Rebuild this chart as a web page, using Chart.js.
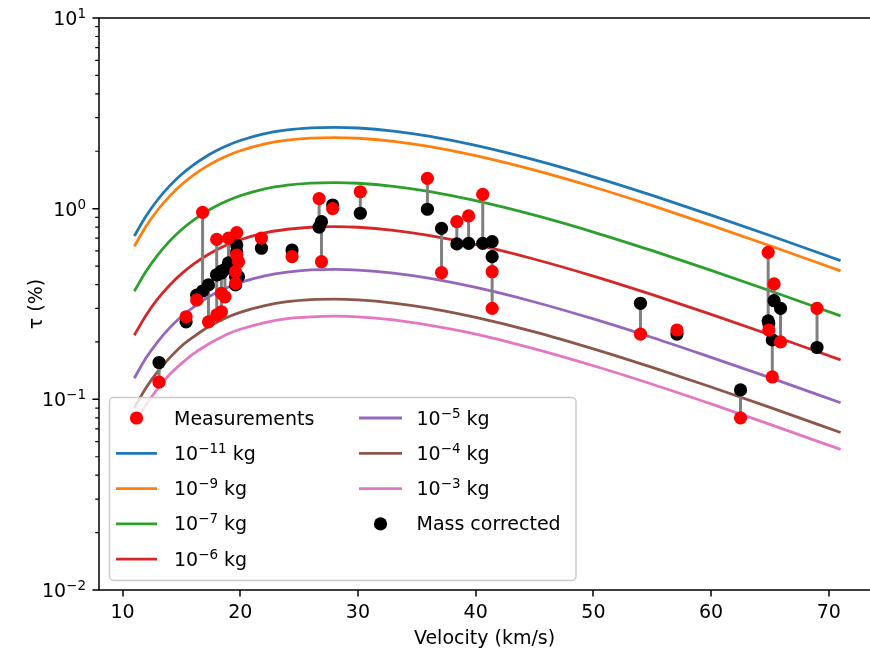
<!DOCTYPE html>
<html>
<head>
<meta charset="utf-8">
<script src="https://cdn.jsdelivr.net/npm/chart.js@4.4.1/dist/chart.umd.min.js"></script>
<style>
  html, body { margin: 0; padding: 0; background: #fff; }
  canvas { display: block; }
</style>
</head>
<body>
<canvas id="chart-tau" width="870" height="658"></canvas>
<script>
'use strict';

const FONT = 'DejaVu Sans';

// model curves: luminous efficiency vs velocity for a few meteoroid masses
const curveVelocity = [11, 12, 13, 14, 15, 16, 17, 18, 19, 20, 22, 24, 26, 28, 30, 33, 36, 40, 45, 50, 55, 60, 65, 71];
const massExponents = [-11, -9, -7, -6, -5, -4, -3];
const massColors = ['#1f77b4', '#ff7f0e', '#2ca02c', '#d62728', '#9467bd', '#8c564b', '#e377c2'];
const tauM11 = [0.719, 0.915, 1.117, 1.317, 1.510, 1.693, 1.862, 2.018, 2.158, 2.278, 2.466, 2.588, 2.652, 2.670, 2.649, 2.552, 2.400, 2.146, 1.801, 1.469, 1.174, 0.925, 0.723, 0.534];
const tauM9  = [0.635, 0.809, 0.987, 1.164, 1.335, 1.496, 1.646, 1.784, 1.907, 2.013, 2.180, 2.288, 2.344, 2.360, 2.341, 2.256, 2.122, 1.897, 1.592, 1.299, 1.038, 0.818, 0.639, 0.472];
const tauM7  = [0.369, 0.470, 0.573, 0.676, 0.775, 0.868, 0.955, 1.036, 1.107, 1.169, 1.266, 1.328, 1.361, 1.370, 1.359, 1.310, 1.232, 1.101, 0.924, 0.754, 0.602, 0.475, 0.371, 0.274];
const tauM6  = [0.217, 0.276, 0.337, 0.397, 0.455, 0.510, 0.561, 0.609, 0.651, 0.687, 0.744, 0.780, 0.799, 0.805, 0.799, 0.770, 0.724, 0.647, 0.543, 0.443, 0.354, 0.279, 0.218, 0.161];
const tauM5  = [0.129, 0.165, 0.201, 0.237, 0.272, 0.304, 0.335, 0.363, 0.388, 0.410, 0.443, 0.465, 0.477, 0.480, 0.476, 0.459, 0.432, 0.386, 0.324, 0.264, 0.211, 0.166, 0.130, 0.096];
const tauM4  = [0.0902, 0.115, 0.140, 0.165, 0.190, 0.212, 0.234, 0.253, 0.271, 0.286, 0.309, 0.325, 0.333, 0.335, 0.332, 0.320, 0.301, 0.269, 0.226, 0.184, 0.147, 0.116, 0.0907, 0.067];
const tauM3  = [0.0735, 0.0936, 0.114, 0.135, 0.154, 0.173, 0.190, 0.206, 0.221, 0.233, 0.252, 0.265, 0.271, 0.273, 0.271, 0.261, 0.245, 0.220, 0.184, 0.150, 0.120, 0.0946, 0.0739, 0.0546];
const massCurves = [tauM11, tauM9, tauM7, tauM6, tauM5, tauM4, tauM3];

// observed meteors: velocity, measured tau and tau after the mass correction
const meteorVelocity = [13.1, 15.4, 16.3, 16.8, 17.3, 18.0, 18.0, 18.4, 18.7, 18.4, 19.0, 19.7, 19.7, 19.85, 19.6, 19.6,
  21.8, 24.4, 26.7, 26.9, 27.85, 30.2, 35.9, 37.1, 38.4, 39.4, 40.6, 41.4, 41.4,
  54.0, 57.1, 62.5, 64.85, 64.9, 65.2, 65.35, 65.9, 69.0];
const tauMeasured = [0.123, 0.271, 0.332, 0.957, 0.255, 0.69, 0.277, 0.288, 0.345, 0.36, 0.70, 0.748, 0.571, 0.527, 0.467, 0.406,
  0.70, 0.56, 1.13, 0.527, 1.0, 1.227, 1.443, 0.462, 0.855, 0.916, 1.189, 0.467, 0.30,
  0.22, 0.231, 0.080, 0.59, 0.231, 0.131, 0.403, 0.20, 0.30];
const tauCorrected = [0.156, 0.255, 0.352, 0.37, 0.398, 0.45, 0.45, 0.47, 0.48, 0.46, 0.52, 0.645, 0.595, 0.44, 0.44, 0.398,
  0.62, 0.607, 0.80, 0.855, 1.045, 0.946, 0.993, 0.788, 0.653, 0.658, 0.658, 0.671, 0.56,
  0.319, 0.22, 0.112, 0.258, 0.25, 0.205, 0.329, 0.30, 0.187];

const xTicks = [10, 20, 30, 40, 50, 60, 70];
const yTicks = [0.01, 0.1, 1, 10];

// '10' with a raised exponent, mathtext style
function drawPow(ctx, exp, x, baseline, align) {
  const base = '10';
  const sup = exp < 0 ? '\u2212' + (-exp) : String(exp);
  ctx.font = `19px "${FONT}"`;
  const wb = ctx.measureText(base).width;
  ctx.font = `13.5px "${FONT}"`;
  const ws = ctx.measureText(sup).width;
  const start = align === 'right' ? x - wb - ws : x;
  ctx.textAlign = 'left';
  ctx.textBaseline = 'alphabetic';
  ctx.font = `19px "${FONT}"`;
  ctx.fillText(base, start, baseline);
  ctx.font = `13.5px "${FONT}"`;
  ctx.fillText(sup, start + wb, baseline - 7);
  return wb + ws;
}

const legendEntries = [
  {kind: 'dot', color: '#ff0000', text: 'Measurements'},
  ...massExponents.map((e, k) => ({kind: 'line', color: massColors[k], exp: e})),
  {kind: 'dot', color: '#000000', text: 'Mass corrected'},
];

const frame = {
  id: 'frame',
  afterDraw(chart) {
    const {ctx, chartArea: a, scales: {x, y}} = chart;
    ctx.save();
    ctx.strokeStyle = '#000';
    ctx.fillStyle = '#000';

    // spines (right one falls outside the canvas)
    ctx.lineWidth = 1.5;
    ctx.beginPath();
    ctx.moveTo(a.right, a.top); ctx.lineTo(a.left, a.top);
    ctx.lineTo(a.left, a.bottom); ctx.lineTo(a.right, a.bottom);
    ctx.stroke();

    // major ticks
    ctx.beginPath();
    xTicks.forEach(v => {
      const px = Math.round(x.getPixelForValue(v));
      ctx.moveTo(px, a.bottom); ctx.lineTo(px, a.bottom + 6.6);
    });
    yTicks.forEach(v => {
      const py = y.getPixelForValue(v);
      ctx.moveTo(a.left - 6.6, py); ctx.lineTo(a.left, py);
    });
    ctx.stroke();

    // minor ticks on the log axis
    ctx.lineWidth = 1.2;
    ctx.beginPath();
    yTicks.slice(0, -1).forEach(d => {
      for (let k = 2; k <= 9; k++) {
        const py = y.getPixelForValue(k * d);
        ctx.moveTo(a.left - 3.8, py); ctx.lineTo(a.left, py);
      }
    });
    ctx.stroke();

    yTicks.forEach(v => {
      drawPow(ctx, Math.round(Math.log10(v)), a.left - 13, y.getPixelForValue(v) + 7, 'right');
    });

    // legend, two columns filled top to bottom
    const box = {l: 109.5, t: 397.5, r: 576, b: 580.5};
    ctx.beginPath();
    ctx.roundRect(box.l, box.t, box.r - box.l, box.b - box.t, 4);
    ctx.fillStyle = 'rgba(255,255,255,0.8)';
    ctx.fill();
    ctx.strokeStyle = '#cccccc';
    ctx.lineWidth = 1.5;
    ctx.stroke();

    const cols = [{h0: 116, h1: 157, tx: 174}, {h0: 359, h1: 402, tx: 416.5}];
    legendEntries.forEach((en, i) => {
      const c = cols[i < 5 ? 0 : 1];
      const row = i < 5 ? i : i - 5;
      const ry = 418 + row * 35.3;
      if (en.kind === 'dot') {
        ctx.beginPath();
        ctx.arc((c.h0 + c.h1) / 2, ry, 6.6, 0, Math.PI * 2);
        ctx.fillStyle = en.color;
        ctx.fill();
      } else {
        ctx.beginPath();
        ctx.moveTo(c.h0, ry); ctx.lineTo(c.h1, ry);
        ctx.strokeStyle = en.color;
        ctx.lineWidth = 2.8;
        ctx.stroke();
      }
      ctx.fillStyle = '#000';
      const baseline = ry + 6.5;
      if (en.text) {
        ctx.font = `19px "${FONT}"`;
        ctx.textAlign = 'left';
        ctx.textBaseline = 'alphabetic';
        ctx.fillText(en.text, c.tx, baseline);
      } else {
        const w = drawPow(ctx, en.exp, c.tx, baseline, 'left');
        ctx.font = `19px "${FONT}"`;
        ctx.fillText(' kg', c.tx + w, baseline);
      }
    });
    ctx.restore();
  }
};

// vertical links between each measured point and its corrected value
const links = [];
meteorVelocity.forEach((v, i) => {
  links.push({x: v, y: tauMeasured[i]}, {x: v, y: tauCorrected[i]}, {x: v, y: null});
});

const datasets = [
  {label: 'Measurements', data: meteorVelocity.map((v, i) => ({x: v, y: tauMeasured[i]})),
   showLine: false, pointRadius: 6.6, pointBorderWidth: 0, pointBackgroundColor: '#ff0000'},
  {label: 'Mass corrected', data: meteorVelocity.map((v, i) => ({x: v, y: tauCorrected[i]})),
   showLine: false, pointRadius: 6.6, pointBorderWidth: 0, pointBackgroundColor: '#000000'},
  {label: 'links', data: links, showLine: true, spanGaps: false, pointRadius: 0,
   borderColor: '#808080', borderWidth: 3},
  ...massCurves.map((c, k) => ({
    label: '1e' + massExponents[k] + ' kg',
    data: curveVelocity.map((v, i) => ({x: v, y: c[i]})),
    showLine: true, pointRadius: 0, borderColor: massColors[k], borderWidth: 2.8,
    cubicInterpolationMode: 'monotone'
  })),
];

new Chart(document.getElementById('chart-tau'), {
  type: 'scatter',
  data: {datasets},
  plugins: [frame],
  options: {
    responsive: false,
    animation: false,
    layout: {autoPadding: false, padding: {top: 18, left: 0, right: 0, bottom: 0}},
    plugins: {legend: {display: false}, tooltip: {enabled: false}},
    scales: {
      x: {
        type: 'linear', min: 8, max: 73.5,
        grid: {display: false, drawTicks: false}, border: {display: false},
        afterBuildTicks: s => { s.ticks = xTicks.map(v => ({value: v})); },
        afterFit: s => { s.height = 68; },
        ticks: {color: '#000', font: {family: FONT, size: 19}, padding: 12, maxRotation: 0, autoSkip: false},
        title: {display: true, text: 'Velocity (km/s)', color: '#000', font: {family: FONT, size: 19}, padding: {top: 0, bottom: 8}}
      },
      y: {
        type: 'logarithmic', min: 0.01, max: 10,
        grid: {display: false, drawTicks: false}, border: {display: false},
        afterBuildTicks: s => { s.ticks = yTicks.map(v => ({value: v})); },
        afterFit: s => { s.width = 99; },
        ticks: {display: false},
        title: {display: true, text: '\u03c4 (%)', color: '#000', font: {family: FONT, size: 19}, padding: {top: 26, bottom: 0}}
      }
    }
  }
});
</script>
</body>
</html>
